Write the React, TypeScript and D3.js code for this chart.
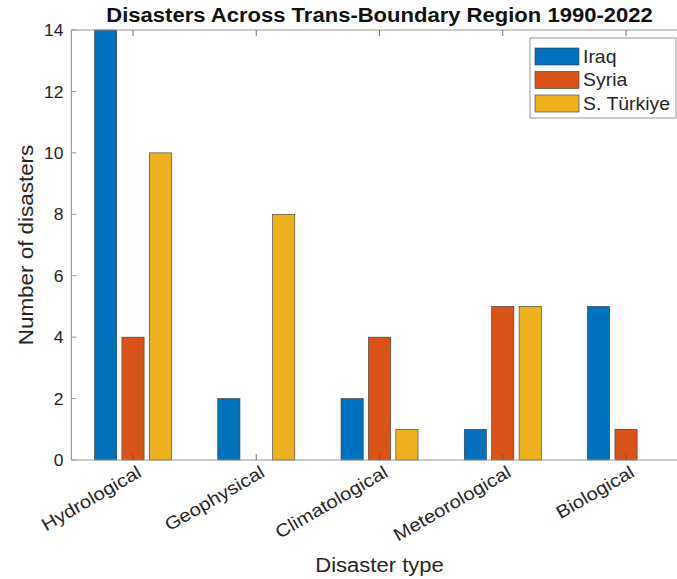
import React from "react";
import * as d3 from "d3";

const categories = ["Hydrological", "Geophysical", "Climatological", "Meteorological", "Biological"];
const seriesNames = ["Iraq", "Syria", "S. Türkiye"];
const iraq = [14, 2, 2, 1, 5];
const syria = [4, 0, 4, 5, 1];
const turkiye = [10, 8, 1, 5, 0];
const yTicks = [0, 2, 4, 6, 8, 10, 12, 14];
const colors = ["#0072BD", "#D95319", "#EDB120"];

const W = 677;
const H = 579;
const FONT = "'Liberation Sans', Arial, Helvetica, sans-serif";
const TEXT = "#262626";
const AXIS = "#9a9a9a";
// Horizontal widening applied to labels so they read like a wide grotesque face
const WIDE = 1.13;

type LabelProps = {
  x: number;
  y: number;
  rotate?: number;
  anchor?: "start" | "middle" | "end";
  size: number;
  weight?: string;
  fill?: string;
  dy?: string;
  sx?: number;
  children: React.ReactNode;
};

function Label({ x, y, rotate = 0, anchor = "start", size, weight = "normal", fill = TEXT, dy, sx = WIDE, children }: LabelProps) {
  return (
    <g transform={`translate(${x},${y}) rotate(${rotate}) scale(${sx},1)`}>
      <text x={0} y={0} dy={dy} textAnchor={anchor} fontFamily={FONT} fontSize={size} fontWeight={weight} fill={fill}>
        {children}
      </text>
    </g>
  );
}

export default function App() {
  const series = [iraq, syria, turkiye];
  const left = 71.4;
  const top = 30;
  const bottom = 460;
  // category positions in index units, axis spans [0.5, 5.5]
  const x = d3.scaleLinear().domain([0.5, 5.5]).range([left, left + 123.25 * 5]);
  const y = d3.scaleLinear().domain([0, 14]).range([bottom, top]);
  const groupOffset = 0.2225;
  const barW = 0.18;
  const right = x(5.5);

  return (
    <svg width={W} height={H} style={{ position: "absolute", left: 0, top: 0, background: "#fff" }}>
      <rect x={0} y={0} width={W} height={H} fill="#fff" />
      {/* bars */}
      {series.map((vals, si) =>
        vals.map((v, ci) => {
          const cx = ci + 1 + (si - 1) * groupOffset;
          const x0 = x(cx - barW / 2);
          const x1 = x(cx + barW / 2);
          return v > 0 ? (
            <rect
              key={`${si}-${ci}`}
              x={x0}
              y={y(v)}
              width={x1 - x0}
              height={y(0) - y(v)}
              fill={colors[si]}
              stroke="#3a3a3a"
              strokeWidth={0.6}
            />
          ) : null;
        })
      )}
      {/* axes box */}
      <line x1={left} x2={right} y1={top} y2={top} stroke={AXIS} strokeWidth={1} />
      <line x1={left} x2={right} y1={bottom} y2={bottom} stroke={AXIS} strokeWidth={1.2} />
      <line x1={left} x2={left} y1={top} y2={bottom} stroke={AXIS} strokeWidth={1.2} />
      {/* y ticks */}
      {yTicks.map((t) => (
        <g key={t}>
          <line x1={left} x2={left + 5} y1={y(t)} y2={y(t)} stroke={AXIS} />
          <Label x={left - 8} y={y(t)} dy="0.36em" anchor="end" size={17} sx={1.03}>
            {t}
          </Label>
        </g>
      ))}
      {/* x ticks and labels */}
      {categories.map((c, i) => {
        const px = x(i + 1);
        return (
          <g key={c}>
            <line x1={px} x2={px} y1={bottom} y2={bottom - 6} stroke="#555" strokeWidth={0.8} />
            <line x1={px} x2={px} y1={top} y2={top + 6} stroke="#555" strokeWidth={0.8} />
            <Label x={px + 3} y={bottom + 4} rotate={-30} anchor="end" dy="0.75em" size={18}>
              {c}
            </Label>
          </g>
        );
      })}
      {/* title */}
      <Label x={(left + right) / 2} y={22} anchor="middle" size={19.5} weight="bold" fill="#111">
        Disasters Across Trans-Boundary Region 1990-2022
      </Label>
      {/* axis labels */}
      <Label x={33} y={(top + bottom) / 2} rotate={-90} anchor="middle" size={19.5} sx={1.15}>
        Number of disasters
      </Label>
      <Label x={(left + right) / 2} y={572} anchor="middle" size={19.5}>
        Disaster type
      </Label>
      {/* legend */}
      <g transform="translate(530,38)">
        <rect x={0} y={0} width={146} height={80} fill="#fff" stroke={AXIS} strokeWidth={1} />
        {seriesNames.map((n, i) => (
          <g key={n} transform={`translate(0,${18.5 + i * 23.5})`}>
            <rect x={5} y={-8.5} width={44} height={17} fill={colors[i]} stroke="#3a3a3a" strokeWidth={0.6} />
            <Label x={53} y={0} dy="0.36em" size={18} sx={1.08}>
              {n}
            </Label>
          </g>
        ))}
      </g>
    </svg>
  );
}
